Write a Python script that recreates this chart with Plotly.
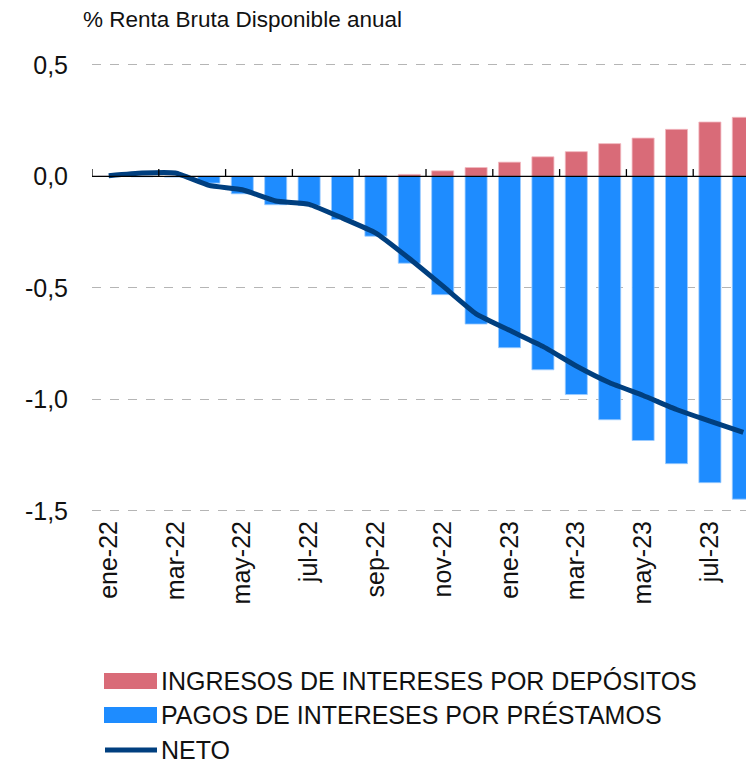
import plotly.graph_objects as go

months = ["ene-22", "feb-22", "mar-22", "abr-22", "may-22", "jun-22", "jul-22", "ago-22",
          "sep-22", "oct-22", "nov-22", "dic-22", "ene-23", "feb-23", "mar-23", "abr-23",
          "may-23", "jun-23", "jul-23", "ago-23"]
ingresos = [0.0, 0.0, 0.0, 0.0, 0.0, 0.0, 0.0, 0.001, 0.003, 0.009, 0.025, 0.040,
            0.064, 0.088, 0.111, 0.147, 0.172, 0.211, 0.244, 0.265]
pagos = [0.0, -0.002, -0.003, -0.030, -0.078, -0.127, -0.130, -0.193, -0.268, -0.389,
         -0.530, -0.662, -0.768, -0.867, -0.978, -1.091, -1.184, -1.288, -1.373, -1.447]
neto = [0.003, 0.015, 0.015, -0.040, -0.060, -0.110, -0.125, -0.187, -0.254, -0.368,
        -0.491, -0.616, -0.690, -0.762, -0.850, -0.925, -0.982, -1.045, -1.097, -1.148]
tick_labels = ["ene-22", "mar-22", "may-22", "jul-22", "sep-22", "nov-22", "ene-23",
               "mar-23", "may-23", "jul-23"]
y_ticks = [0.5, 0.0, -0.5, -1.0, -1.5]
y_tick_text = ["0,5", "0,0", "-0,5", "-1,0", "-1,5"]

names = ["INGRESOS DE INTERESES POR DEPÓSITOS", "PAGOS DE INTERESES POR PRÉSTAMOS", "NETO"]
RED = "#D96B78"
BLUE = "#1E8CFF"
NAVY = "#003F7F"
FONT = "Liberation Sans"

# page body has an 8px margin: figure coords = window coords - 8
OFF = 8
L, T = 92 - OFF, 60 - OFF
PW = 754 - 92
PH = 455
FIG_W = 754 - OFF
FIG_H = 763 - OFF

x = list(range(len(months)))

fig = go.Figure()
fig.add_trace(go.Bar(x=x, y=ingresos, name=names[0], marker=dict(color=RED, line=dict(color="#f2b9c0", width=0.8)),
                     showlegend=False, hovertext=months))
fig.add_trace(go.Bar(x=x, y=pagos, name=names[1], marker=dict(color=BLUE, line=dict(color="#9ccbff", width=0.8)),
                     showlegend=False, hovertext=months))
fig.add_trace(go.Scatter(x=x, y=neto, name=names[2], mode="lines",
                         line=dict(color=NAVY, width=5, shape="spline", smoothing=0.4),
                         showlegend=False, hovertext=months))

tick_idx = [months.index(t) for t in tick_labels]

shapes = []
shapes.append(dict(type="line", xref="paper", yref="y", x0=0, x1=1, y0=0, y1=0,
                   line=dict(color="black", width=1.3), layer="above"))
for i in tick_idx:
    shapes.append(dict(type="line", xref="x", yref="y", x0=i - 0.5, x1=i - 0.5, y0=0, y1=0.033,
                       line=dict(color="black", width=1.3), layer="above"))

def px_x(p):
    return (p - 92) / PW
def px_y(p):
    return (515 - p) / PH

rows = [681, 715, 750]
shapes.append(dict(type="rect", xref="paper", yref="paper", x0=px_x(104), x1=px_x(157),
                   y0=px_y(rows[0] + 8), y1=px_y(rows[0] - 8), fillcolor=RED, line=dict(width=0)))
shapes.append(dict(type="rect", xref="paper", yref="paper", x0=px_x(104), x1=px_x(157),
                   y0=px_y(rows[1] + 8), y1=px_y(rows[1] - 8), fillcolor=BLUE, line=dict(width=0)))
shapes.append(dict(type="line", xref="paper", yref="paper", x0=px_x(105), x1=px_x(157),
                   y0=px_y(rows[2]), y1=px_y(rows[2]), line=dict(color=NAVY, width=5)))

annotations = []
for name, r in zip(names, rows):
    annotations.append(dict(xref="paper", yref="paper", x=px_x(159), y=px_y(r), text=name,
                            showarrow=False, xanchor="left", yanchor="middle",
                            font=dict(family=FONT, size=25, color="#111111")))
annotations.append(dict(xref="paper", yref="paper", x=px_x(81), y=px_y(19),
                        text="% Renta Bruta Disponible anual", showarrow=False,
                        xanchor="left", yanchor="middle",
                        font=dict(family=FONT, size=22.5, color="#111111")))

fig.update_layout(
    width=FIG_W, height=FIG_H,
    margin=dict(l=L, r=0, t=T, b=FIG_H - T - PH),
    paper_bgcolor="white", plot_bgcolor="white",
    barmode="relative", bargap=0.34,
    font=dict(family=FONT, color="#111111"),
    shapes=shapes, annotations=annotations,
    xaxis=dict(range=[-0.5, 19.32], tickmode="array", tickvals=tick_idx, ticktext=tick_labels,
               tickangle=-90, showgrid=False, zeroline=False, showline=False, ticks="",
               tickfont=dict(family=FONT, size=25, color="#111111"), fixedrange=True),
    yaxis=dict(range=[-1.518, 0.522], tickmode="array", tickvals=y_ticks, ticktext=y_tick_text,
               showgrid=True, gridcolor="#b5b5b5", griddash="dash", gridwidth=1,
               zeroline=False, showline=False, ticks="", ticklabelstandoff=23,
               tickfont=dict(family=FONT, size=25, color="#111111")),
)

fig.write_html("out.html")
